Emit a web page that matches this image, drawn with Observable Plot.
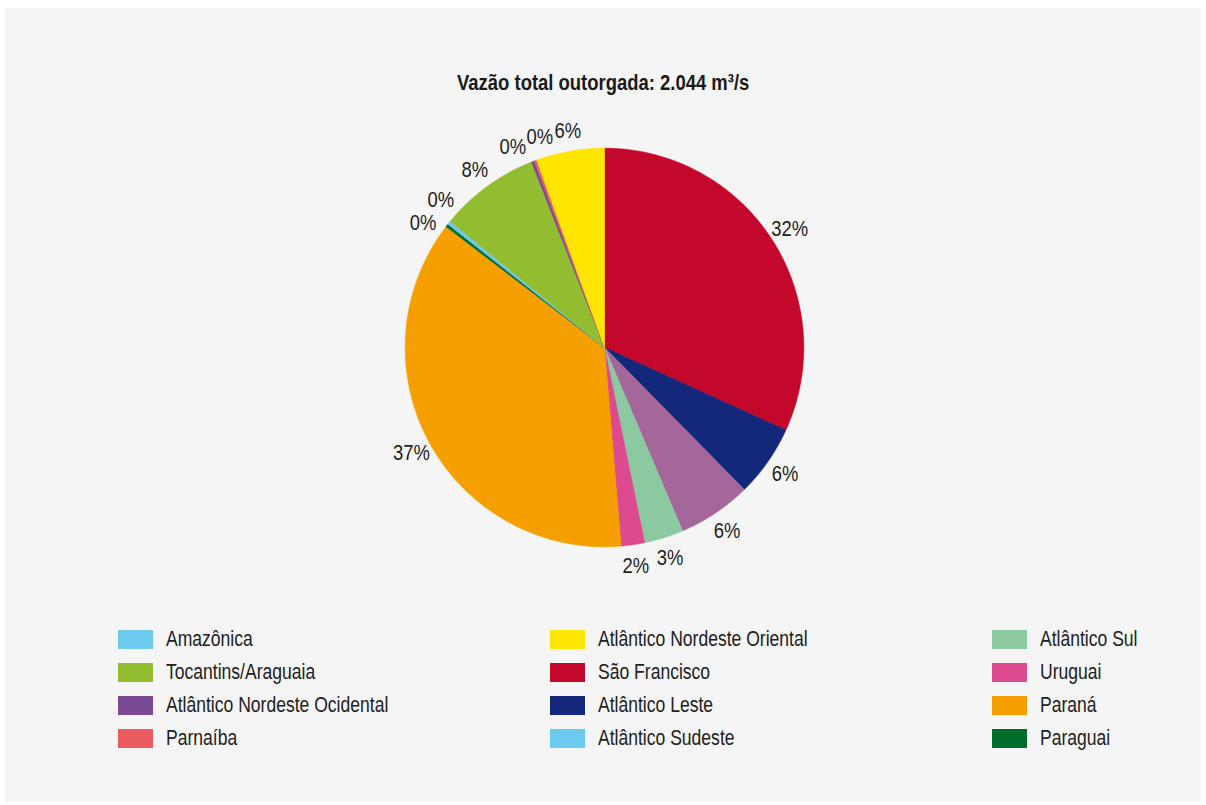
<!DOCTYPE html>
<html>
<head>
<meta charset="utf-8">
<script src="https://cdn.jsdelivr.net/npm/d3@7"></script>
<script src="https://cdn.jsdelivr.net/npm/@observablehq/plot@0.6"></script>
<style>
  html, body { margin: 0; padding: 0; background: #ffffff; }
  #page { position: relative; width: 1206px; height: 805px; background: #ffffff; overflow: hidden; }
  #panel { position: absolute; left: 5px; top: 8px; width: 1196px; height: 794px; background: #f5f5f5; }
  #title { position: absolute; left: 0; top: 69px; width: 1206px; text-align: center; font-weight: bold;
           font-size: 22.5px; line-height: 28px; color: #1a1a1a; }
  #title span { display: inline-block; transform-origin: center center; white-space: nowrap; }
  #chart { position: absolute; left: 304px; top: 97px; }
  #legend { position: absolute; left: 118px; top: 623.6px; display: grid;
            grid-template-columns: 432px 442px 200px; grid-template-rows: repeat(4, 32.7px);
            grid-auto-flow: column; }
  .item { display: flex; align-items: center; height: 32.7px; white-space: nowrap; }
  .sw { width: 35px; height: 19px; flex: none; margin-right: 13px; }
  .lt { display: inline-block; font-size: 21.4px; color: #222; transform-origin: left center; }
</style>
</head>
<body>
<div id="page">
  <div id="panel"></div>
  <div id="title"><span>Vazão total outorgada: 2.044 m³/s</span></div>
  <div id="chart"></div>
  <div id="legend"></div>
</div>
<script>
// ---- data ----
const title = "Vazão total outorgada: 2.044 m³/s";
// legend order (column-major)
const legendNames = ["Amazônica", "Tocantins/Araguaia", "Atlântico Nordeste Ocidental", "Parnaíba",
  "Atlântico Nordeste Oriental", "São Francisco", "Atlântico Leste", "Atlântico Sudeste",
  "Atlântico Sul", "Uruguai", "Paraná", "Paraguai"];
const legendColors = ["#6cc9ef", "#93bd31", "#7b4a95", "#ea5c60",
  "#ffe500", "#c4082c", "#13287a", "#6cc9ef",
  "#8cc9a1", "#de4a8f", "#f59f00", "#006d2d"];
// pie order (clockwise from 12 o'clock), values in m³/s (total 2044)
const sliceNames = ["São Francisco", "Atlântico Leste", "Atlântico Sudeste", "Atlântico Sul", "Uruguai",
  "Paraná", "Paraguai", "Amazônica", "Tocantins/Araguaia", "Atlântico Nordeste Ocidental",
  "Parnaíba", "Atlântico Nordeste Oriental"];
const sliceValues = [650, 119, 122, 65, 39, 750, 5, 6, 166, 5, 4, 113];
const sliceColors = ["#c4082c", "#13287a", "#a5669a", "#8cc9a1", "#de4a8f",
  "#f59f00", "#006d2d", "#6cc9ef", "#93bd31", "#7b4a95", "#ea5c60", "#ffe500"];

// ---- font detection (Arial Narrow metrics) ----
const ctx = document.createElement("canvas").getContext("2d");
ctx.font = '22px "Liberation Sans Narrow"';
const wN = ctx.measureText("Atlântico Nordeste Ocidental").width;
ctx.font = '22px "Liberation Sans"';
const wR = ctx.measureText("Atlântico Nordeste Ocidental").width;
const hasNarrow = wN < wR * 0.9;
const FONT = hasNarrow ? '"Liberation Sans Narrow", "Arial Narrow", sans-serif' : '"Liberation Sans", Arial, sans-serif';
const SX = hasNarrow ? 1 : 0.82;
document.getElementById("page").style.fontFamily = FONT;
document.querySelector("#title span").style.transform = `scaleX(${SX})`;

// ---- pie geometry (computed from data) ----
const total = d3.sum(sliceValues);
const toRad = Math.PI / 180;
let acc = 0;
const slices = sliceNames.map((name, i) => {
  const a0 = acc / total * 360;
  acc += sliceValues[i];
  const a1 = acc / total * 360;
  return {name, value: sliceValues[i], a0, a1, mid: (a0 + a1) / 2};
});
const wedgePts = [];
for (const s of slices) {
  wedgePts.push({name: s.name, x: 0, y: 0});
  const n = Math.max(2, Math.ceil((s.a1 - s.a0) / 0.5));
  for (let k = 0; k <= n; k++) {
    const a = (s.a0 + (s.a1 - s.a0) * k / n) * toRad;
    wedgePts.push({name: s.name, x: Math.sin(a), y: Math.cos(a)});
  }
  wedgePts.push({name: s.name, x: 0, y: 0});
}

// label angles: spread crowded labels apart
const GAP = 7.5;
let clusters = slices.map((s, i) => ({members: [i]}));
const pos = c => {
  const m = d3.mean(c.members, i => slices[i].mid);
  return c.members.map((i, k) => m + (k - (c.members.length - 1) / 2) * GAP);
};
let merged = true;
while (merged) {
  merged = false;
  for (let j = 0; j < clusters.length - 1; j++) {
    const pa = pos(clusters[j]), pb = pos(clusters[j + 1]);
    if (pa[pa.length - 1] + GAP > pb[0] + 1e-9) {
      clusters.splice(j, 2, {members: clusters[j].members.concat(clusters[j + 1].members)});
      merged = true;
      break;
    }
  }
}
const labelAngle = new Array(slices.length);
for (const c of clusters) pos(c).forEach((a, k) => labelAngle[c.members[k]] = a);
const LR = 1.105;
const labels = slices.map((s, i) => ({
  text: Math.round(s.value / total * 100) + "%",
  x: LR * Math.sin(labelAngle[i] * toRad),
  y: LR * Math.cos(labelAngle[i] * toRad)
}));

// ---- plot ----
const W = 600, H = 500, R = 199.3;
const chart = Plot.plot({
  width: W, height: H, margin: 0,
  x: {domain: [-W / 2 / R, W / 2 / R], axis: null},
  y: {domain: [-H / 2 / R, H / 2 / R], axis: null},
  color: {type: "ordinal", domain: sliceNames, range: sliceColors},
  style: {background: "transparent", fontFamily: FONT, overflow: "visible"},
  marks: [
    Plot.line(wedgePts, {x: "x", y: "y", z: "name", fill: "name", stroke: "name", strokeWidth: 0.6, curve: "linear"}),
    Plot.text(labels, {x: "x", y: "y", text: "text", fontSize: 22.5, fill: "#222", textAnchor: "middle", lineAnchor: "middle"})
  ]
});
document.getElementById("chart").appendChild(chart);
if (SX !== 1) {
  chart.querySelectorAll('g[aria-label="text"] text').forEach(t => {
    let tr = t.getAttribute("transform");
    if (!tr) {
      const x = t.getAttribute("x") || 0, y = t.getAttribute("y") || 0;
      t.removeAttribute("x"); t.removeAttribute("y");
      tr = `translate(${x},${y})`;
    }
    t.setAttribute("transform", tr + ` scale(${SX},1)`);
  });
}

// ---- legend ----
const legend = d3.select("#legend");
legendNames.forEach((name, i) => {
  const item = legend.append("div").attr("class", "item");
  item.append("div").attr("class", "sw").style("background", legendColors[i]);
  item.append("span").attr("class", "lt").style("transform", `scaleX(${SX})`).text(name);
});
</script>
</body>
</html>
